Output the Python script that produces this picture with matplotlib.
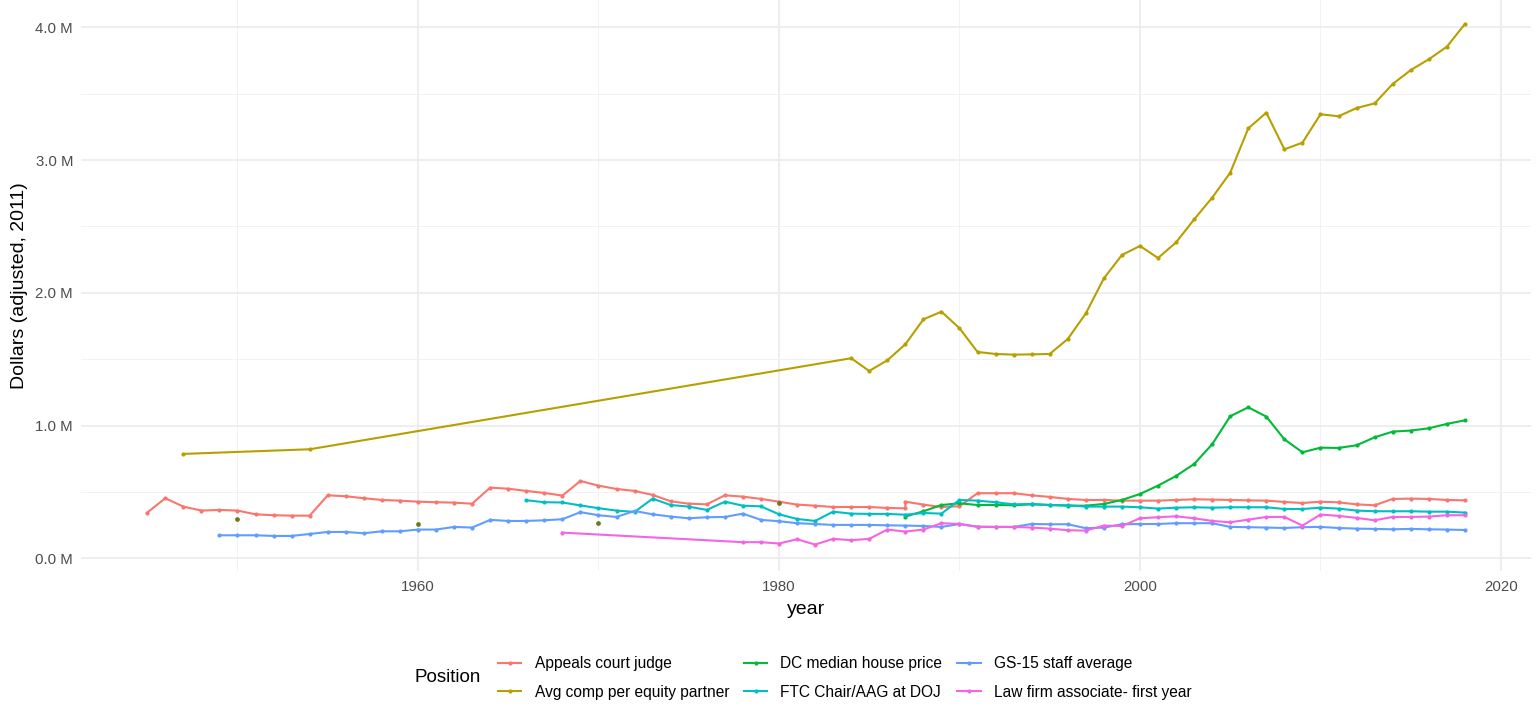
import matplotlib.pyplot as plt
from matplotlib.ticker import FuncFormatter, MultipleLocator
from matplotlib.lines import Line2D

plt.rcParams['font.family'] = ['Liberation Sans', 'DejaVu Sans']

# Appeals court judge (1987 appears twice: the series jumps within that year)
judge_years = list(range(1945, 1988)) + list(range(1987, 2019))
judge_vals = [0.344, 0.452, 0.389, 0.359, 0.364, 0.359, 0.331, 0.324, 0.321, 0.321,
              0.474, 0.467, 0.452, 0.439, 0.434, 0.426, 0.422, 0.419, 0.411, 0.532,
              0.524, 0.507, 0.492, 0.472, 0.582, 0.547, 0.522, 0.507, 0.477, 0.429,
              0.411, 0.406, 0.474, 0.464, 0.447, 0.426, 0.404, 0.396, 0.386, 0.386,
              0.386, 0.379, 0.376,
              0.426, 0.404, 0.386, 0.392, 0.490, 0.490, 0.490, 0.474, 0.462, 0.447,
              0.439, 0.439, 0.434, 0.434, 0.434, 0.439, 0.444, 0.442, 0.439, 0.436,
              0.434, 0.424, 0.416, 0.426, 0.421, 0.406, 0.399, 0.447, 0.449, 0.447,
              0.439, 0.436]

partner_years = [1947, 1954, 1984, 1985, 1986, 1987, 1988, 1989, 1990, 1991, 1992,
                 1993, 1994, 1995, 1996, 1997, 1998, 1999, 2000, 2001, 2002, 2003,
                 2004, 2005, 2006, 2007, 2008, 2009, 2010, 2011, 2012, 2013, 2014,
                 2015, 2016, 2017, 2018]
partner_vals = [0.786, 0.821, 1.507, 1.411, 1.491, 1.612, 1.800, 1.858, 1.733, 1.554,
                1.539, 1.534, 1.536, 1.539, 1.652, 1.845, 2.109, 2.285, 2.353, 2.262,
                2.380, 2.553, 2.717, 2.905, 3.239, 3.357, 3.081, 3.131, 3.345, 3.330,
                3.392, 3.427, 3.573, 3.678, 3.759, 3.854, 4.025]

# unconnected points drawn in the reference
loose_years = [1950, 1960, 1970, 1980]
loose_vals = [0.294, 0.256, 0.268, 0.414]

house_years = list(range(1987, 2019))
house_vals = [0.314, 0.354, 0.401, 0.414, 0.401, 0.401, 0.399, 0.406, 0.401, 0.396,
              0.396, 0.409, 0.439, 0.484, 0.547, 0.620, 0.710, 0.859, 1.070, 1.137,
              1.067, 0.896, 0.798, 0.833, 0.831, 0.851, 0.911, 0.954, 0.962, 0.979,
              1.012, 1.039]

ftc_years = list(range(1966, 2019))
ftc_vals = [0.437, 0.422, 0.420, 0.398, 0.377, 0.359, 0.349, 0.449, 0.401, 0.389,
            0.364, 0.426, 0.396, 0.391, 0.331, 0.296, 0.281, 0.351, 0.336, 0.334,
            0.334, 0.328, 0.341, 0.336, 0.439, 0.434, 0.422, 0.406, 0.409, 0.401,
            0.399, 0.389, 0.389, 0.389, 0.384, 0.374, 0.381, 0.384, 0.381, 0.384,
            0.384, 0.384, 0.371, 0.371, 0.381, 0.374, 0.359, 0.354, 0.354, 0.354,
            0.351, 0.351, 0.344]

gs_years = list(range(1949, 2019))
gs_vals = [0.173, 0.173, 0.173, 0.168, 0.168, 0.183, 0.198, 0.198, 0.188, 0.203,
           0.203, 0.216, 0.216, 0.236, 0.231, 0.289, 0.281, 0.281, 0.286, 0.294,
           0.347, 0.324, 0.311, 0.356, 0.331, 0.314, 0.301, 0.309, 0.311, 0.336,
           0.289, 0.279, 0.264, 0.258, 0.251, 0.251, 0.251, 0.248, 0.246, 0.243,
           0.236, 0.258, 0.238, 0.236, 0.236, 0.258, 0.256, 0.256, 0.226, 0.231,
           0.256, 0.258, 0.258, 0.264, 0.264, 0.264, 0.236, 0.234, 0.231, 0.228,
           0.234, 0.236, 0.228, 0.223, 0.221, 0.218, 0.221, 0.218, 0.216, 0.213]

assoc_years = [1968] + list(range(1978, 2019))
assoc_vals = [0.193, 0.121, 0.121, 0.111, 0.143, 0.103, 0.146, 0.136, 0.146, 0.216,
              0.201, 0.216, 0.264, 0.258, 0.236, 0.236, 0.236, 0.231, 0.223, 0.211,
              0.208, 0.246, 0.243, 0.301, 0.309, 0.316, 0.301, 0.281, 0.271, 0.291,
              0.311, 0.311, 0.246, 0.329, 0.319, 0.304, 0.286, 0.311, 0.311, 0.314,
              0.324, 0.324]

series = [
    ('Appeals court judge', judge_years, judge_vals, '#F8766D'),
    ('Avg comp per equity partner', partner_years, partner_vals, '#B79F00'),
    ('DC median house price', house_years, house_vals, '#00BA38'),
    ('FTC Chair/AAG at DOJ', ftc_years, ftc_vals, '#00BFC4'),
    ('GS-15 staff average', gs_years, gs_vals, '#619CFF'),
    ('Law firm associate- first year', assoc_years, assoc_vals, '#F564E3'),
]

fig = plt.figure(figsize=(15.38, 7.05), dpi=100)
ax = fig.add_axes([0.0529, 0.1901, 0.9424, 0.8099])

for name, xs, ys, color in series:
    ax.plot(xs, ys, color=color, linewidth=1.5, marker='o', markersize=2.0,
            label=name, zorder=3)
ax.plot(loose_years, loose_vals, 'o', color='#6B7A1E', markersize=2.4, zorder=3)

ax.set_xlim(1941.35, 2021.65)
ax.set_ylim(-0.096, 4.206)
ax.xaxis.set_major_locator(MultipleLocator(20))
ax.xaxis.set_minor_locator(MultipleLocator(10))
ax.yaxis.set_major_locator(MultipleLocator(1.0))
ax.yaxis.set_minor_locator(MultipleLocator(0.5))
ax.yaxis.set_major_formatter(FuncFormatter(lambda v, p: f'{v:.1f} M'))

ax.grid(which='major', color='#EBEBEB', linewidth=1.2)
ax.grid(which='minor', color='#F2F2F2', linewidth=0.7)
ax.set_axisbelow(True)
for s in ax.spines.values():
    s.set_visible(False)
ax.tick_params(which='both', length=0)
ax.tick_params(axis='both', labelsize=10.8, labelcolor='#4D4D4D')
ax.tick_params(axis='x', pad=6.8)
ax.tick_params(axis='y', pad=6)

ax.set_xlabel('year', fontsize=14, labelpad=5)
ax.set_ylabel('Dollars (adjusted, 2011)', fontsize=14, labelpad=5)

handles = [Line2D([0], [0], color=c, linewidth=1.5, marker='o', markersize=2.0)
           for _, _, _, c in series]
labels = [n for n, _, _, _ in series]
fig.legend(handles, labels, ncol=3, loc='center left', bbox_to_anchor=(0.3238, 0.0383),
           frameon=False, fontsize=11.2, handlelength=1.5, columnspacing=0.95,
           handletextpad=0.85, labelspacing=0.85, borderpad=0, borderaxespad=0)
fig.text(0.2698, 0.0383, 'Position', fontsize=13.5, va='center', ha='left')

fig.savefig('out.png', dpi=100, facecolor='white')
